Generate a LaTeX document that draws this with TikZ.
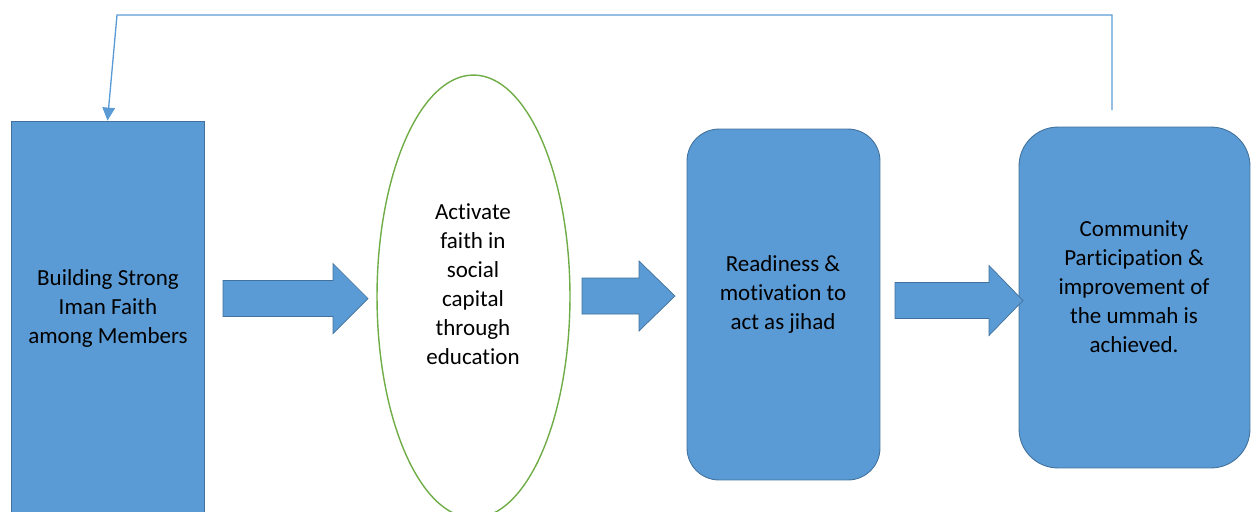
\documentclass[tikz,border=0pt]{standalone}
\usepackage{fontspec}
\setmainfont{Carlito}[Ligatures=NoCommon]
\usetikzlibrary{arrows.meta,shapes.geometric}
\definecolor{boxblue}{HTML}{5B9BD5}
\definecolor{boxedge}{HTML}{41719C}
\definecolor{ovalgreen}{HTML}{70AD47}
\tikzset{
  box/.style={draw=boxedge, fill=boxblue, line width=0.5pt, inner sep=0pt},
  oval/.style={ellipse, draw=ovalgreen, fill=white, line width=0.8pt, inner sep=0pt},
  lbl/.style={align=center, font=\fontsize{13.1}{16.5}\selectfont},
  blockarrow/.style={draw=boxedge, fill=boxblue, line width=0.4pt, line join=miter},
  feedback/.style={draw=boxblue, line width=0.75pt, -{Triangle[length=0.26cm,width=0.25cm]}}
}

\begin{document}
\begin{tikzpicture}[x=0.02cm,y=-0.02cm]
  \useasboundingbox (0,0) rectangle (1251,511);
  \clip (0,0) rectangle (1251,511);
  \node[box, minimum width=3.86cm, minimum height=8.6cm] (b1) at (107.5,336) {};
  \node[oval, minimum width=3.86cm, minimum height=8.86cm] (e1) at (473.5,296.5) {};
  \node[box, rounded corners=0.64cm, minimum width=3.86cm, minimum height=7.02cm] (b2) at (783.5,304.5) {};
  \node[box, rounded corners=0.78cm, minimum width=4.62cm, minimum height=6.82cm] (b3) at (1134.5,297.5) {};
  \node[lbl] (t1) at (108,308) {Building Strong\\Iman Faith\\among Members};
  \node[lbl] (t2) at (473,284.5) {Activate\\faith in\\social\\capital\\through\\education};
  \node[lbl] (t3) at (783,294) {Readiness \&\\motivation to\\act as jihad};
  \node[lbl] (t4) at (1134,287) {Community\\Participation \&\\improvement of\\the ummah is\\achieved.};
  \foreach \xa/\xb/\xc/\ym in {223/333/368/298.5, 582/639/675/296, 895/989/1023/300.5} {
    \path[blockarrow] (\xa,\ym-18) -- (\xb,\ym-18) -- (\xb,\ym-35) -- (\xc,\ym)
      -- (\xb,\ym+35) -- (\xb,\ym+18) -- (\xa,\ym+18) -- cycle;
  }
  \coordinate (fbstart) at (1112,110);
  \coordinate (fbright) at (1112,15);
  \coordinate (fbleft) at (117,15);
  \draw[feedback] (fbstart) -- (fbright) -- (fbleft) -- (b1.north);
\end{tikzpicture}
\end{document}
